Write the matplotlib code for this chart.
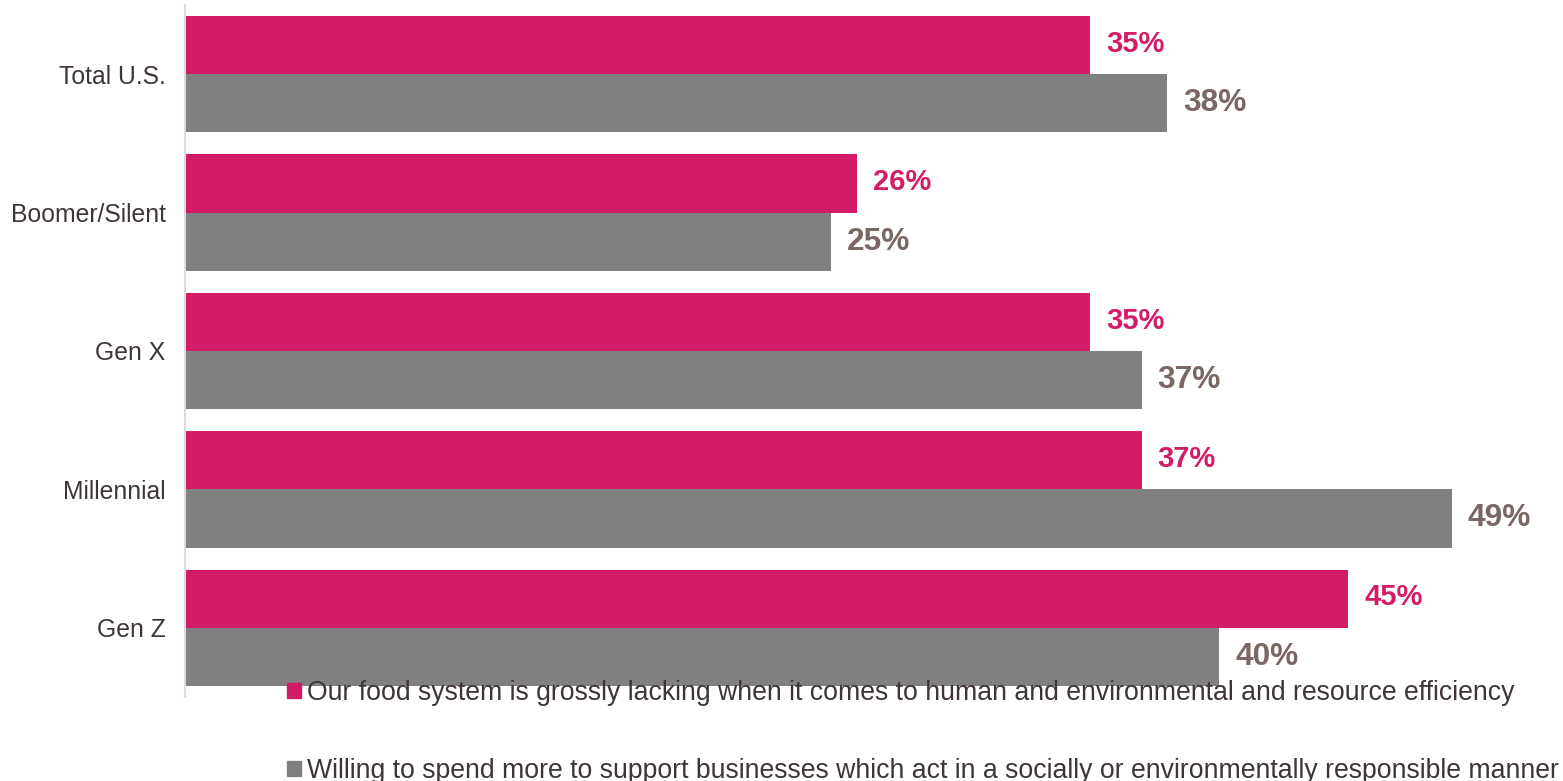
import matplotlib.pyplot as plt
from matplotlib.patches import Patch

plt.rcParams['font.family'] = ['Liberation Sans', 'DejaVu Sans']

groups = ['Total U.S.', 'Boomer/Silent', 'Gen X', 'Millennial', 'Gen Z']
lacking = [35, 26, 35, 37, 45]
willing = [38, 25, 37, 49, 40]
series_names = [
    'Our food system is grossly lacking when it comes to human and environmental and resource efficiency',
    'Willing to spend more to support businesses which act in a socially or environmentally responsible manner',
]

pink = '#D41B67'
grey = '#808080'
grey_lbl = '#7A6663'
txt = '#3F3535'

fig = plt.figure(figsize=(15.63, 7.81), dpi=100)
ax = fig.add_axes([185 / 1563, 1 - 697 / 781, 1 - 185 / 1563, 692 / 781])

y = list(range(len(groups)))
h = 0.42
b1 = ax.barh([v - h / 2 for v in y], lacking, height=h, color=pink)
b2 = ax.barh([v + h / 2 for v in y], willing, height=h, color=grey)

for bar, v in zip(b1, lacking):
    ax.annotate(f'{v}%', (bar.get_width(), bar.get_y() + bar.get_height() / 2),
                xytext=(11.5, 1), textcoords='offset points', va='center', ha='left',
                fontsize=21, fontweight='bold', color=pink)
for bar, v in zip(b2, willing):
    ax.annotate(f'{v}%', (bar.get_width(), bar.get_y() + bar.get_height() / 2),
                xytext=(11.5, 0), textcoords='offset points', va='center', ha='left',
                fontsize=22.8, fontweight='bold', color=grey_lbl)

ax.set_xlim(0, 53.3)
ax.set_ylim(4.5, -0.5)
ax.set_yticks(y)
ax.set_yticklabels(groups, fontsize=17.8, color=txt)
ax.tick_params(axis='y', length=0, pad=14)
ax.set_xticks([])
for s in ['top', 'right', 'bottom']:
    ax.spines[s].set_visible(False)
ax.spines['left'].set_color('#E2DADA')
ax.spines['left'].set_linewidth(1.5)

handles = [Patch(color=pink), Patch(color=grey)]
fig.legend(handles, series_names, loc='upper left', bbox_to_anchor=(287 / 1563, 1 - 680 / 781),
           frameon=False, fontsize=19.2, labelcolor=txt, handlelength=0.52, handleheight=0.52,
           handletextpad=0.22, labelspacing=1.95, borderpad=0, borderaxespad=0)

fig.savefig('out.png', dpi=100)
